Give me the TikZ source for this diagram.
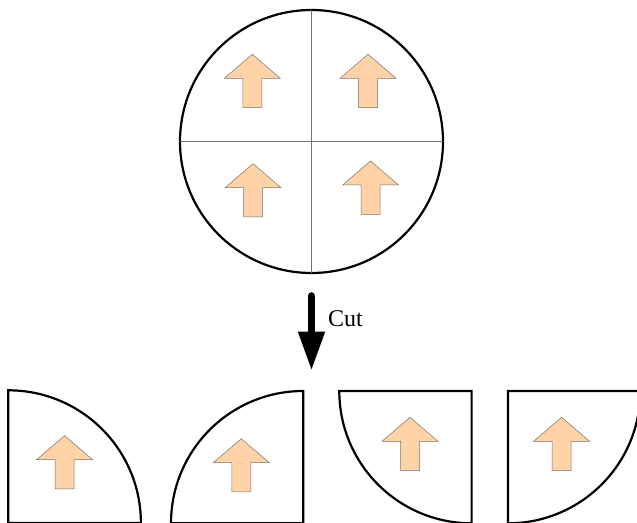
\documentclass[tikz,border=0pt]{standalone}
\usepackage{fontspec}
\setmainfont{Liberation Serif}
\usetikzlibrary{arrows.meta}
\definecolor{blockorange}{HTML}{FFD3A7}
\definecolor{blockedge}{HTML}{7A7268}
\tikzset{
    outline/.style={draw=black, line width=2.2pt, line join=miter},
    cutline/.style={draw=black!55, line width=0.8pt},
    upblock/.pic={
        \draw[fill=blockorange, draw=blockedge, line width=0.5pt]
            (0,0) -- (28,-24) -- (9.5,-24) -- (9.5,-53.3) -- (-9.5,-53.3) -- (-9.5,-24) -- (-28,-24) -- cycle;
    }
}
\begin{document}
\begin{tikzpicture}[x=1pt, y=1pt]
    \useasboundingbox (0,0) rectangle (637,522);
    \clip (0,0) rectangle (637,522);

    % whole disc
    \node[outline, circle, minimum size=263pt, inner sep=0pt, outer sep=0pt] (disc) at (311.5,380.5) {};
    \draw[cutline] (disc.north) -- (disc.south);
    \draw[cutline] (disc.west) -- (disc.east);
    \pic at (252.3,467.7) {upblock};
    \pic at (368,467.7) {upblock};
    \pic at (253,358.3) {upblock};
    \pic at (370.6,361) {upblock};

    % cut arrow
    \coordinate (cuttop) at (311.5,226);
    \coordinate (cutend) at (311.5,151.3);
    \draw[line width=7.5pt, line cap=round, -{Triangle[width=25pt, length=39pt]}] (cuttop) -- (cutend);
    \node[font=\fontsize{24}{26}\selectfont, anchor=west, inner sep=0pt] (cutlabel) at (328,203.5) {Cut};

    % pieces
    \draw[outline] (8.3,131.7) arc[start angle=90, end angle=0, radius=132.6] -- (8.3,-0.9) -- cycle;
    \draw[outline] (303.3,131) arc[start angle=90, end angle=180, radius=132.3] -- (303.3,-1.3) -- cycle;
    \draw[outline] (339.3,131) arc[start angle=180, end angle=270, radius=132.3] -- (471.6,131) -- cycle;
    \draw[outline] (640.3,131) arc[start angle=0, end angle=-90, radius=132.3] -- (508,131) -- cycle;
    \pic at (64.6,86.3) {upblock};
    \pic at (241.3,83.3) {upblock};
    \pic at (410,104.7) {upblock};
    \pic at (561.6,104.7) {upblock};
\end{tikzpicture}
\end{document}
